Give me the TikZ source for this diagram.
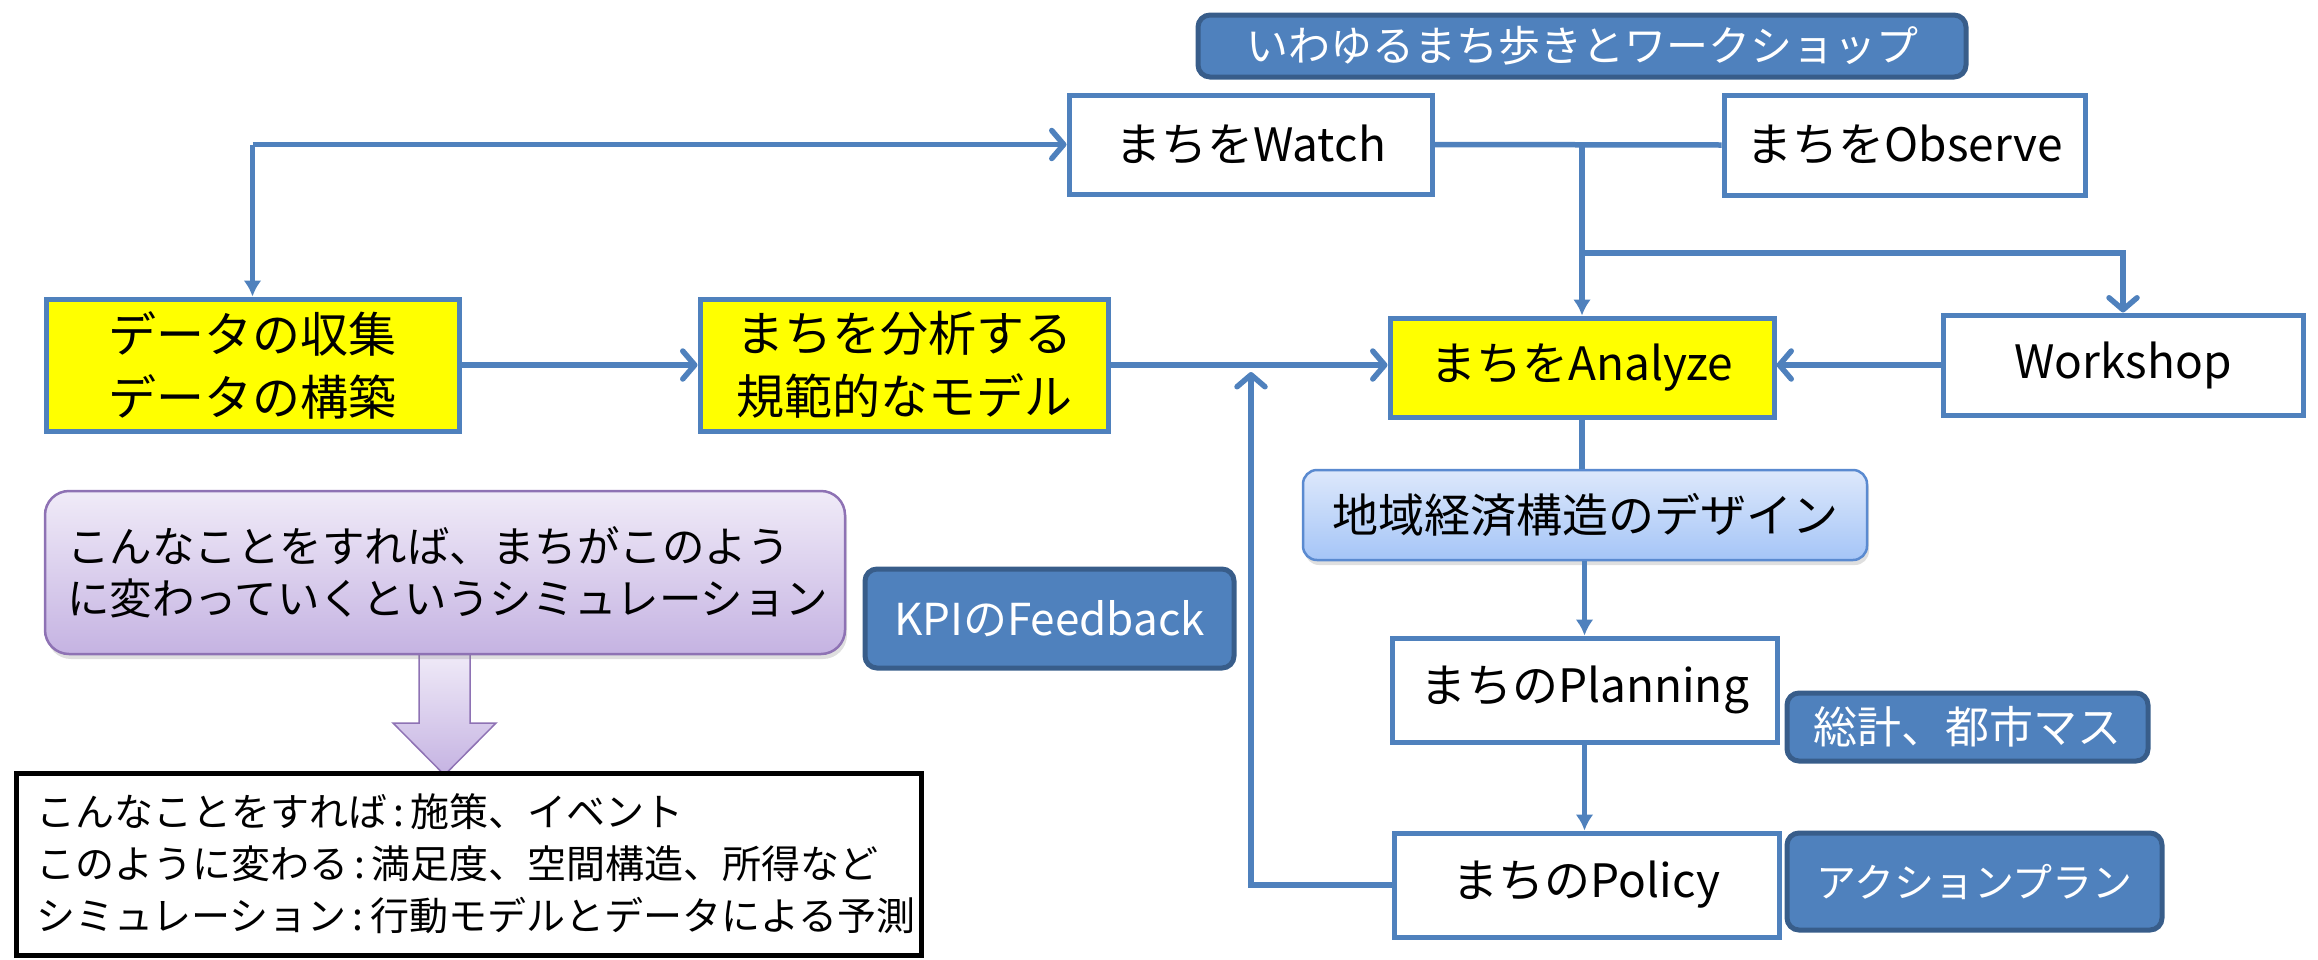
\documentclass[tikz,border=0pt]{standalone}
\usepackage{fontspec}
\setmainfont{Noto Sans CJK JP}
\usetikzlibrary{arrows.meta,shadows,calc}
\definecolor{lineblue}{HTML}{4F81BD}
\definecolor{darkblue}{HTML}{385D8A}
\definecolor{boxyellow}{HTML}{FFFF00}
\definecolor{purpleedge}{HTML}{8E72B4}
\definecolor{purpletop}{HTML}{F0EBF8}
\definecolor{purplebot}{HTML}{C5B3E2}
\definecolor{designtop}{HTML}{DDE8FB}
\definecolor{designbot}{HTML}{A5C5F7}
\definecolor{designedge}{HTML}{5A8AD0}
\begin{document}
\begin{tikzpicture}[x=1pt,y=-1pt,
  base/.style={draw=lineblue, line width=5pt, inner sep=0pt, align=center},
  whitebox/.style={base, fill=white, font=\fontsize{46}{56}\selectfont},
  yellowbox/.style={base, fill=boxyellow, font=\fontsize{48}{63}\selectfont},
  tagbox/.style={fill=lineblue, draw=darkblue, line width=5pt, rounded corners=12pt, text=white, inner sep=0pt},
  conn/.style={draw=lineblue, line width=5.5pt},
  barb/.style={conn, -{Straight Barb[length=12pt,width=28pt,round]}},
  tri/.style={conn, -{Latex[length=16pt,width=18pt]}},
]
\useasboundingbox (0,0) rectangle (2318,959);

% block arrow (drawn under the purple box)
\shade[top color=purpletop, bottom color=purplebot, draw=purpleedge, line width=1.5pt]
  (419,652) -- (470,652) -- (470,723) -- (496,723) -- (444.5,775) -- (393,723) -- (419,723) -- cycle;

\node[tagbox, minimum width=768pt, minimum height=62pt, font=\fontsize{42}{50}\selectfont] (title) at (1582,46) {いわゆるまち歩きとワークショップ};
\node[whitebox, minimum width=363pt, minimum height=99pt] (watch) at (1250.5,144.5) {まちをWatch};
\node[whitebox, minimum width=361pt, minimum height=100pt] (observe) at (1904.5,145) {まちをObserve};
\node[yellowbox, minimum width=413pt, minimum height=132pt] (data) at (252.5,365) {データの収集\\データの構築};
\node[yellowbox, minimum width=408pt, minimum height=132pt] (model) at (904,365) {まちを分析する\\規範的なモデル};
\node[yellowbox, minimum width=384pt, minimum height=99pt, font=\fontsize{46}{56}\selectfont] (analyze) at (1582,367.5) {まちをAnalyze};
\node[whitebox, minimum width=360pt, minimum height=100pt] (workshop) at (2123,365) {Workshop};
\node[draw=designedge, line width=2.5pt, rounded corners=14pt, top color=designtop, bottom color=designbot,
  drop shadow={opacity=0.25, shadow xshift=2pt, shadow yshift=-5pt},
  minimum width=564pt, minimum height=90pt, inner sep=0pt, font=\fontsize{46}{56}\selectfont] (design) at (1585,515) {地域経済構造のデザイン};
\node[whitebox, minimum width=385pt, minimum height=104pt] (planning) at (1584.5,690) {まちのPlanning};
\node[whitebox, minimum width=385pt, minimum height=104pt] (policy) at (1586.5,885) {まちのPolicy};
\node[tagbox, minimum width=361pt, minimum height=68pt, font=\fontsize{44}{52}\selectfont] (sokei) at (1967.5,727) {総計、都市マス};
\node[tagbox, minimum width=375pt, minimum height=97pt, font=\fontsize{40}{48}\selectfont] (action) at (1974.5,881.5) {アクションプラン};
\node[tagbox, minimum width=369pt, minimum height=99pt, font=\fontsize{44}{50}\selectfont] (kpi) at (1049.5,618.5) {KPIのFeedback};
\node[draw=purpleedge, line width=2.5pt, rounded corners=24pt, top color=purpletop, bottom color=purplebot,
  drop shadow={opacity=0.25, shadow xshift=2pt, shadow yshift=-5pt},
  minimum width=800pt, minimum height=163pt, inner xsep=22pt, inner ysep=0pt,
  text width=756pt, align=left, font=\fontsize{42.5}{52}\selectfont] (sim) at (445,572.5)
  {こんなことをすれば、まちがこのよう\\に変わっていくというシミュレーション};
\node[draw=black, fill=white, line width=5pt, minimum width=905pt, minimum height=182pt,
  inner xsep=20pt, inner ysep=0pt, text width=865pt, align=left, font=\fontsize{39}{52}\selectfont] (legend) at (468.5,864)
  {こんなことをすれば\,:\,施策、イベント\\このように変わる\,:\,満足度、空間構造、所得など\\シミュレーション\,:\,行動モデルとデータによる予測};

% connectors
\coordinate (c1) at (data.north |- watch.west);
\draw[barb] (c1) -- (watch.west);
\draw[tri] (c1) -- (data.north);
\draw[barb] (data.east) -- (model.west);
\draw[barb] (model.east) -- (model.east -| analyze.west);
\draw[conn] (watch.east) -- (observe.west);
\coordinate (j1) at (analyze.north |- watch.east);
\draw[tri] (j1) -- (analyze.north);
\coordinate (j2) at (1582,253);
\draw[barb] (j2) -- (j2 -| workshop.north) -- (workshop.north);
\draw[barb] (workshop.west) -- (workshop.west -| analyze.east);
\draw[conn] (analyze.south) -- (analyze.south |- design.north);
\draw[tri] (design.south -| planning.north) -- (planning.north);
\draw[tri] (planning.south) -- (planning.south |- policy.north);
\coordinate (fb) at (1251,372);
\draw[barb] (policy.west) -- (policy.west -| fb) -- (fb);
\end{tikzpicture}
\end{document}
